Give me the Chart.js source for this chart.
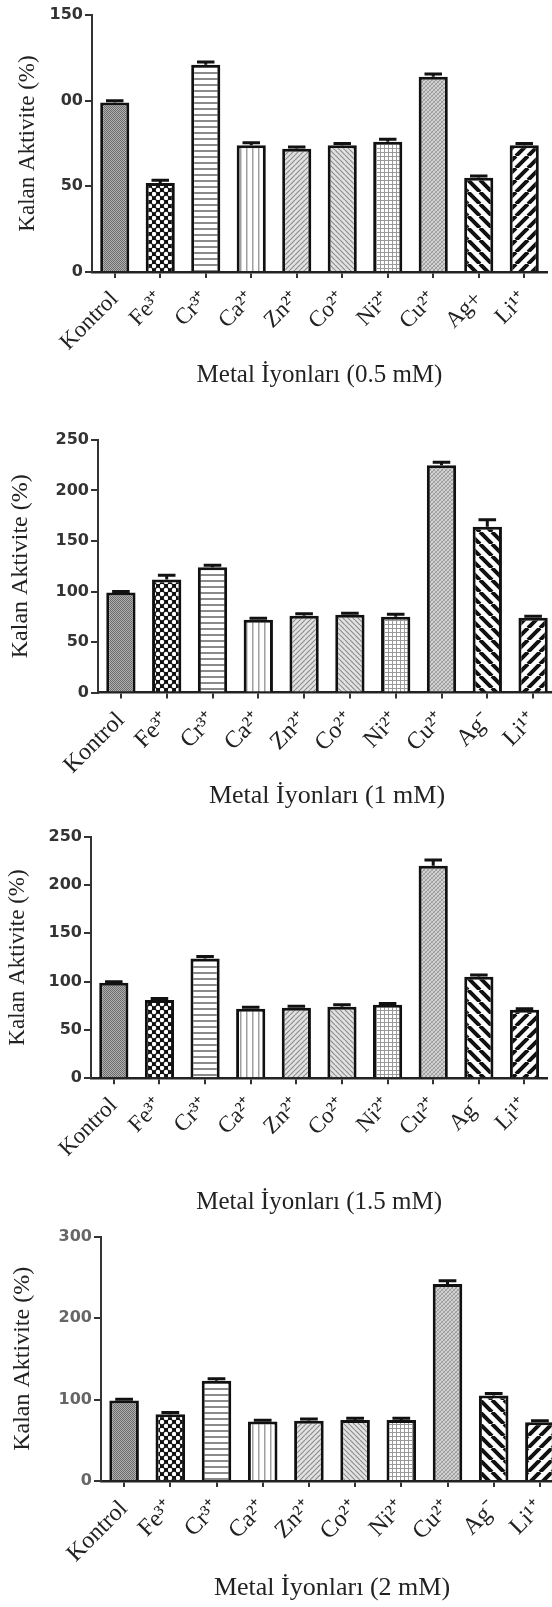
<!DOCTYPE html>
<html>
<head>
<meta charset="utf-8">
<script src="https://cdn.jsdelivr.net/npm/chart.js@4.4.0/dist/chart.umd.min.js"></script>
<style>
  html, body { margin: 0; padding: 0; background: #fff; }
  body { width: 552px; height: 1607px; overflow: hidden; position: relative; }
  .panel { position: absolute; left: 0; }
</style>
</head>
<body>
<div class="panel" style="top:0px;width:552px;height:400px"><canvas id="c05"></canvas></div>
<div class="panel" style="top:400px;width:600px;height:410px"><canvas id="c1"></canvas></div>
<div class="panel" style="top:810px;width:552px;height:410px"><canvas id="c15"></canvas></div>
<div class="panel" style="top:1220px;width:600px;height:387px"><canvas id="c2"></canvas></div>
<script>
// categories
const ionsA = ['Kontrol', 'Fe³⁺', 'Cr³⁺', 'Ca²⁺', 'Zn²⁺', 'Co²⁺', 'Ni²⁺', 'Cu²⁺', 'Ag+', 'Li¹⁺'];
const ionsB = ['Kontrol', 'Fe³⁺', 'Cr³⁺', 'Ca²⁺', 'Zn²⁺', 'Co²⁺', 'Ni²⁺', 'Cu²⁺', 'Ag⁻', 'Li¹⁺'];

// remaining activity (%) per metal ion concentration
const activity05 = [99, 52, 121, 74, 72, 74, 76, 114, 55, 74];
const error05    = [1, 1.5, 1.5, 1.5, 1, 1, 1.5, 1.5, 1, 1];
const activity1  = [99, 112, 124, 72, 76, 77, 75, 225, 164, 74];
const error1     = [1, 4, 2, 1.5, 2, 1.5, 2.5, 3, 7, 1.5];
const activity15 = [99, 81, 124, 72, 73, 74, 76, 220, 105, 71];
const error15    = [1, 1.5, 2, 1.5, 1.5, 2, 1.5, 6, 2, 1];
const activity2  = [99, 82, 123, 73, 74, 75, 75, 242, 105, 72];
const error2     = [1.5, 2, 2.5, 1.5, 2, 2, 2, 4, 2.5, 2];

// y tick labels as printed
const yTicks05 = ['0', '50', '00', '150'];
const yTicks1  = ['0', '50', '100', '150', '200', '250'];
const yTicks15 = ['0', '50', '100', '150', '200', '250'];
const yTicks2  = ['0', '100', '200', '300'];

const xTitles = ['Metal İyonları (0.5 mM)', 'Metal İyonları (1 mM)', 'Metal İyonları (1.5 mM)', 'Metal İyonları (2 mM)'];
const yTitle = 'Kalan Aktivite (%)';

// hatch fills, one per ion
function tile(size, draw) {
    const c = document.createElement('canvas');
    c.width = size; c.height = size;
    const g = c.getContext('2d');
    draw(g, size);
    return g.createPattern(c, 'repeat');
}
function diag(g, s, dir, color, w) {
    g.strokeStyle = color; g.lineWidth = w;
    g.beginPath();
    for (let k = -1; k <= 1; k++) {
        if (dir > 0) { g.moveTo(k * s, s); g.lineTo(k * s + s, 0); }
        else { g.moveTo(k * s, 0); g.lineTo(k * s + s, s); }
    }
    g.stroke();
}
const fills = [
    tile(2, g => { g.fillStyle = '#b0b0b0'; g.fillRect(0, 0, 2, 2); g.fillStyle = '#6c6c6c'; g.fillRect(0, 0, 1, 1); g.fillRect(1, 1, 1, 1); }),
    tile(8, g => { g.fillStyle = '#111'; g.fillRect(0, 0, 8, 8); g.fillStyle = '#fff';
        [[2, 2], [6, 6]].forEach(([x, y]) => { g.beginPath(); g.arc(x, y, 2.2, 0, Math.PI * 2); g.fill(); }); }),
    tile(6, g => { g.fillStyle = '#fff'; g.fillRect(0, 0, 6, 6); g.fillStyle = '#8a8a8a'; g.fillRect(0, 0, 6, 2); }),
    tile(6, g => { g.fillStyle = '#fff'; g.fillRect(0, 0, 6, 6); g.fillStyle = '#a0a0a0'; g.fillRect(0, 0, 1.5, 6); }),
    tile(5, (g, s) => { g.fillStyle = '#e2e2e2'; g.fillRect(0, 0, s, s); diag(g, s, 1, '#8c8c8c', 1.2); }),
    tile(5, (g, s) => { g.fillStyle = '#e2e2e2'; g.fillRect(0, 0, s, s); diag(g, s, -1, '#8c8c8c', 1.2); }),
    tile(4, g => { g.fillStyle = '#fff'; g.fillRect(0, 0, 4, 4); g.fillStyle = '#9a9a9a'; g.fillRect(0, 0, 4, 1); g.fillRect(0, 0, 1, 4); }),
    tile(4, (g, s) => { g.fillStyle = '#d2d2d2'; g.fillRect(0, 0, s, s); diag(g, s, 1, '#959595', 1); diag(g, s, -1, '#a8a8a8', 0.8); }),
    tile(12, (g, s) => { g.fillStyle = '#fff'; g.fillRect(0, 0, s, s); diag(g, s, -1, '#111', 4); }),
    tile(12, (g, s) => { g.fillStyle = '#fff'; g.fillRect(0, 0, s, s); diag(g, s, 1, '#111', 4); })
];

// error bar caps on top of each bar
const errorBars = {
    id: 'errorBars',
    afterDatasetsDraw(chart, args, opts) {
        const { ctx, scales: { y } } = chart;
        const meta = chart.getDatasetMeta(0);
        const data = chart.data.datasets[0].data;
        ctx.save();
        ctx.strokeStyle = '#111';
        ctx.lineWidth = 3;
        meta.data.forEach((bar, i) => {
            const top = y.getPixelForValue(data[i] + opts.errors[i]);
            const half = bar.width * 0.3;
            ctx.beginPath();
            ctx.moveTo(bar.x, bar.y);
            ctx.lineTo(bar.x, top);
            ctx.moveTo(bar.x - half, top);
            ctx.lineTo(bar.x + half, top);
            ctx.stroke();
        });
        ctx.restore();
    }
};

const panels = [
    { id: 'c05', labels: ionsA, values: activity05, errors: error05, ticks: yTicks05, max: 150, step: 50, title: xTitles[0],
      top: 0, height: 400, width: 552, axisX: 92, plotTop: 15, zeroY: 272, right: 547, titleY: 375, yTitleX: 28, font: 23, tickColor: '#333' },
    { id: 'c1', labels: ionsB, values: activity1, errors: error1, ticks: yTicks1, max: 250, step: 50, title: xTitles[1],
      top: 400, height: 410, width: 600, axisX: 98, plotTop: 440, zeroY: 692.5, right: 556, titleY: 796, yTitleX: 21, font: 24, tickColor: '#333' },
    { id: 'c15', labels: ionsB, values: activity15, errors: error15, ticks: yTicks15, max: 250, step: 50, title: xTitles[2],
      top: 810, height: 410, width: 552, axisX: 91, plotTop: 836.7, zeroY: 1078.3, right: 552, titleY: 1202, yTitleX: 18, font: 23, tickColor: '#333' },
    { id: 'c2', labels: ionsB, values: activity2, errors: error2, ticks: yTicks2, max: 300, step: 100, title: xTitles[3],
      top: 1220, height: 387, width: 600, axisX: 101, plotTop: 1236.7, zeroY: 1481, right: 563, titleY: 1588, yTitleX: 23, font: 24, tickColor: '#666' }
];

panels.forEach(p => {
    const titleSize = p.font + 2;
    new Chart(document.getElementById(p.id), {
        type: 'bar',
        data: {
            labels: p.labels,
            datasets: [{
                data: p.values,
                backgroundColor: fills,
                borderColor: '#111',
                borderWidth: 3,
                borderSkipped: 'start',
                barPercentage: 0.8,
                categoryPercentage: 0.8
            }]
        },
        options: {
            responsive: true,
            maintainAspectRatio: false,
            animation: false,
            layout: { padding: { top: p.plotTop - p.top, right: p.width - p.right, left: 0, bottom: 0 } },
            plugins: {
                legend: { display: false },
                tooltip: { enabled: false },
                errorBars: { errors: p.errors }
            },
            scales: {
                x: {
                    afterFit: s => { s.height = p.top + p.height - p.zeroY; },
                    grid: { drawOnChartArea: false, offset: false, tickLength: 6, color: '#333', lineWidth: 2 },
                    border: { display: true, color: '#222', width: 2.5 },
                    ticks: {
                        autoSkip: false, maxRotation: 45, minRotation: 45, padding: 8,
                        color: '#222', font: { family: 'Liberation Serif', size: p.font }
                    },
                    title: {
                        display: true, text: p.title, color: '#222',
                        font: { family: 'Liberation Serif', size: titleSize },
                        padding: { top: 0, bottom: p.top + p.height - p.titleY - titleSize * 0.6 }
                    }
                },
                y: {
                    min: 0, max: p.max,
                    afterFit: s => { s.width = p.axisX; },
                    grid: { drawOnChartArea: false, tickLength: 7, color: '#333', lineWidth: 2 },
                    border: { display: true, color: '#333', width: 2 },
                    ticks: {
                        stepSize: p.step, padding: 2, color: p.tickColor,
                        font: { family: 'DejaVu Sans', weight: 'bold', size: 16 },
                        callback: (v, i) => p.ticks[i]
                    },
                    title: {
                        display: true, text: yTitle, color: '#222',
                        font: { family: 'Liberation Serif', size: p.font },
                        padding: { top: p.yTitleX - p.font * 0.6, bottom: 0 }
                    }
                }
            }
        },
        plugins: [errorBars]
    });
});
</script>
</body>
</html>
